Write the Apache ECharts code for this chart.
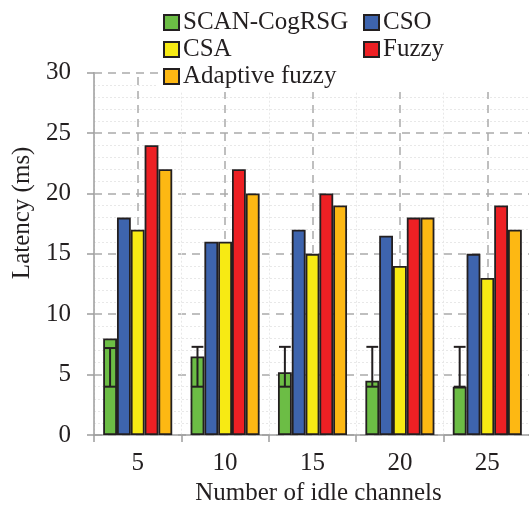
<!DOCTYPE html>
<html><head><meta charset="utf-8">
<script src="https://cdn.jsdelivr.net/npm/echarts@6/dist/echarts.min.js"></script>
<style>html,body{margin:0;padding:0;background:#fff}#c{width:529px;height:505px}</style>
</head><body><div id="c"></div>
<script>
var categories = ['5', '10', '15', '20', '25'];
var scanCogRSG = [8, 6.5, 5.2, 4.5, 4.0];
var cso = [18, 16, 17, 16.5, 15];
var csa = [17, 16, 15, 14, 13];
var fuzzy = [24, 22, 20, 18, 19];
var adaptiveFuzzy = [22, 20, 19, 18, 17];
var errLow = [4, 4, 4, 4, 4];
var errHigh = [7.2, 7.3, 7.3, 7.3, 7.3];
var yTicks = [0, 5, 10, 15, 20, 25, 30];

var FONT = "'Liberation Serif', 'Times New Roman', Times, serif";
var TXT = '#231f20';
var GAP = 0.21;
var chart = echarts.init(document.getElementById('c'));
function barS(name, data, color) {
  return {name: name, type: 'bar', data: data, barGap: '0%', barCategoryGap: (GAP*100)+'%',
    itemStyle: {color: color, borderColor: '#231f20', borderWidth: 1.8}};
}
var series = [
  barS('SCAN-CogRSG', scanCogRSG, '#6cbd45'),
  barS('CSO', cso, '#3e64ad'),
  barS('CSA', csa, '#f7ea14'),
  barS('Fuzzy', fuzzy, '#ed2024'),
  barS('Adaptive fuzzy', adaptiveFuzzy, '#fdb813'),
  {type: 'custom', z: 3, silent: true,
    data: errLow.map(function (l, i) { return [i, l, errHigh[i]]; }),
    encode: {x: 0, y: [1, 2]},
    markLine: {z: 1, silent: true, symbol: 'none', label: {show: false},
      lineStyle: {type: [8, 6], color: '#aaaaaa', width: 1.5},
      data: categories.map(function (c) { return {xAxis: c}; })},
    renderItem: function (params, api) {
      var idx = api.value(0);
      var lo = api.coord([idx, api.value(1)]);
      var hi = api.coord([idx, api.value(2)]);
      var band = api.size([1, 0])[0];
      var bw = band * (1 - GAP) / 5;
      var cx = lo[0] - 2 * bw;
      var hw = bw / 2 - 1;
      var st = {stroke: '#231f20', lineWidth: 2};
      return {type: 'group', children: [
        {type: 'line', shape: {x1: cx, y1: lo[1], x2: cx, y2: hi[1]}, style: st},
        {type: 'line', shape: {x1: cx - hw, y1: hi[1], x2: cx + hw, y2: hi[1]}, style: st},
        {type: 'line', shape: {x1: cx - hw, y1: lo[1], x2: cx + hw, y2: lo[1]}, style: st}
      ]};
    }
  }
];
chart.setOption({
  animation: false,
  backgroundColor: '#fff',
  textStyle: {fontFamily: FONT, color: TXT},
  legend: {
    left: 158, top: 7, width: 420, padding: [2, 0, 2, 5],
    backgroundColor: '#fff', z: 10,
    itemWidth: 15, itemHeight: 15, itemGap: 0,
    icon: 'rect',
    data: ['SCAN-CogRSG', 'CSO', 'CSA', 'Fuzzy', 'Adaptive fuzzy'],
    textStyle: {fontFamily: FONT, fontSize: 25, color: TXT, width: 180, lineHeight: 27, padding: [0, 0, 0, -1]}
  },
  grid: {left: 94, top: 72.7, width: 437, height: 362.3, containLabel: false, outerBoundsMode: 'none'},
  xAxis: {
    type: 'category', data: categories,
    name: 'Number of idle channels', nameLocation: 'middle', nameGap: 37,
    nameTextStyle: {fontFamily: FONT, fontSize: 25, color: TXT, padding: [0, 0, 0, 12]},
    axisLine: {lineStyle: {color: '#9d9d9d', width: 1.5}},
    axisTick: {show: true, length: 7, lineStyle: {color: '#9d9d9d', width: 1.5}},
    axisLabel: {fontFamily: FONT, fontSize: 25, color: TXT, margin: 16},
    splitLine: {show: true, lineStyle: {color: '#e8e8e8', type: [2, 2], width: 1}}
  },
  yAxis: {
    type: 'value', min: yTicks[0], max: yTicks[yTicks.length - 1], interval: 5,
    name: 'Latency (ms)', nameLocation: 'middle', nameGap: 58,
    nameTextStyle: {fontFamily: FONT, fontSize: 25, color: TXT, padding: [0, 0, 0, 82]},
    axisLine: {show: true, lineStyle: {color: '#9d9d9d', width: 1.5}},
    axisTick: {show: true, length: 7, lineStyle: {color: '#9d9d9d', width: 1.5}},
    axisLabel: {fontFamily: FONT, fontSize: 25, color: TXT, margin: 23},
    splitLine: {show: true, lineStyle: {color: '#aaaaaa', type: [8, 6], width: 1.5}},
    minorTick: {show: false, splitNumber: 5},
    minorSplitLine: {show: true, lineStyle: {color: '#e8e8e8', type: [2, 2], width: 1}}
  },
  series: series
});
</script></body></html>
